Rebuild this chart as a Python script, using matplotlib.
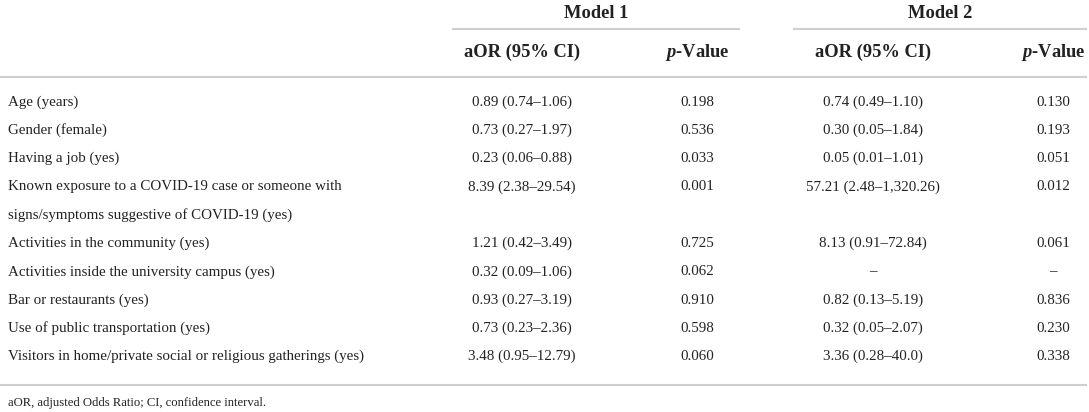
import matplotlib
matplotlib.use("Agg")
import matplotlib.pyplot as plt

FONT = "Liberation Serif"
plt.rcParams["mathtext.fontset"] = "custom"
plt.rcParams["mathtext.rm"] = FONT
plt.rcParams["mathtext.it"] = FONT + ":italic"
plt.rcParams["mathtext.bf"] = FONT + ":bold"
plt.rcParams["mathtext.bfit"] = FONT + ":italic:bold"

variables = [
    "Age (years)",
    "Gender (female)",
    "Having a job (yes)",
    "Known exposure to a COVID-19 case or someone with\nsigns/symptoms suggestive of COVID-19 (yes)",
    "Activities in the community (yes)",
    "Activities inside the university campus (yes)",
    "Bar or restaurants (yes)",
    "Use of public transportation (yes)",
    "Visitors in home/private social or religious gatherings (yes)",
]
m1_aor = ["0.89 (0.74\u20131.06)", "0.73 (0.27\u20131.97)", "0.23 (0.06\u20130.88)",
          "8.39 (2.38\u201329.54)", "1.21 (0.42\u20133.49)", "0.32 (0.09\u20131.06)",
          "0.93 (0.27\u20133.19)", "0.73 (0.23\u20132.36)", "3.48 (0.95\u201312.79)"]
m1_p = ["0.198", "0.536", "0.033", "0.001", "0.725", "0.062", "0.910", "0.598", "0.060"]
m2_aor = ["0.74 (0.49\u20131.10)", "0.30 (0.05\u20131.84)", "0.05 (0.01\u20131.01)",
          "57.21 (2.48\u20131,320.26)", "8.13 (0.91\u201372.84)", "\u2013",
          "0.82 (0.13\u20135.19)", "0.32 (0.05\u20132.07)", "3.36 (0.28\u201340.0)"]
m2_p = ["0.130", "0.193", "0.051", "0.012", "0.061", "\u2013", "0.836", "0.230", "0.338"]
models = ["Model 1", "Model 2"]
footnote = "aOR, adjusted Odds Ratio; CI, confidence interval."

W, H = 1089, 412
fig = plt.figure(figsize=(W / 100, H / 100), dpi=100)
ax = fig.add_axes([0, 0, 1, 1])
ax.set_xlim(0, W)
ax.set_ylim(H, 0)
ax.axis("off")

TC = "#222222"
LC = "#cfcfcf"
fs = 10.8
hfs = 13.3

# column centers
c_m1a, c_m1p, c_m2a, c_m2p = 522, 697, 873, 1053

# group headers
ax.text(596, 13, models[0], ha="center", va="center", fontsize=hfs,
        fontweight="bold", family=FONT, color=TC)
ax.text(940, 13, models[1], ha="center", va="center", fontsize=hfs,
        fontweight="bold", family=FONT, color=TC)
ax.plot([452, 740], [29, 29], color=LC, lw=1.5, solid_capstyle="butt")
ax.plot([793, 1087], [29, 29], color=LC, lw=1.5, solid_capstyle="butt")

for cx in [c_m1a, c_m2a]:
    ax.text(cx, 52, "aOR (95% CI)", ha="center", va="center", fontsize=hfs,
            fontweight="bold", family=FONT, color=TC)
for cx in [c_m1p, c_m2p]:
    ax.text(cx, 52, r"$\mathbfit{p}$-Value", ha="center", va="center",
            fontsize=hfs, fontweight="bold", family=FONT, color=TC)

ax.plot([0, 1087], [77, 77], color=LC, lw=1.5, solid_capstyle="butt")

row_y = [102, 130.3, 158.6, 186.9, 243.5, 271.8, 300.1, 328.4, 356.7]
for i, y in enumerate(row_y):
    lines = variables[i].split("\n")
    for k, ln in enumerate(lines):
        ax.text(8, y + 28.3 * k, ln, ha="left", va="center", fontsize=fs,
                family=FONT, color=TC)
    ax.text(c_m1a, y, m1_aor[i], ha="center", va="center", fontsize=fs, family=FONT, color=TC)
    ax.text(c_m1p, y, m1_p[i], ha="center", va="center", fontsize=fs, family=FONT, color=TC)
    ax.text(c_m2a, y, m2_aor[i], ha="center", va="center", fontsize=fs, family=FONT, color=TC)
    ax.text(c_m2p, y, m2_p[i], ha="center", va="center", fontsize=fs, family=FONT, color=TC)

ax.plot([0, 1087], [385, 385], color=LC, lw=1.5, solid_capstyle="butt")
ax.text(8, 403, footnote, ha="left", va="center", fontsize=9.1, family=FONT, color=TC)

fig.savefig("out.png", dpi=100)
